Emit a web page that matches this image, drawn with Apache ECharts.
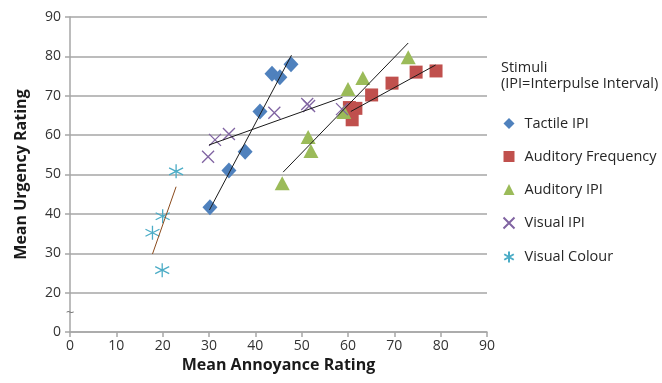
<!DOCTYPE html>
<html>
<head>
<meta charset="utf-8">
<script src="https://cdn.jsdelivr.net/npm/echarts@6/dist/echarts.min.js"></script>
<style>
	html, body { margin: 0; padding: 0; background: #fff; }
	#chart { width: 662px; height: 383px; }
</style>
</head>
<body>
<div id="chart"></div>
<script>
	// values
	var seriesNames = ['Tactile IPI', 'Auditory Frequency', 'Auditory IPI', 'Visual IPI', 'Visual Colour'];

	var tactileX = [30.2, 34.3, 37.8, 41.0, 43.6, 45.3, 47.7];
	var tactileY = [41.7, 51.0, 55.8, 66.0, 75.6, 74.7, 78.0];

	var freqX = [60.3, 61.7, 60.9, 65.1, 69.5, 74.7, 79.0];
	var freqY = [67.0, 66.8, 63.9, 70.2, 73.2, 76.0, 76.3];

	var audIpiX = [45.8, 51.4, 52.0, 59.1, 60.0, 63.2, 73.0];
	var audIpiY = [47.8, 59.5, 56.0, 65.9, 71.7, 74.5, 79.8];

	var visIpiX = [29.8, 31.3, 34.3, 44.1, 51.2, 51.6, 58.7];
	var visIpiY = [54.5, 58.8, 60.3, 65.7, 67.9, 67.4, 66.6];

	var colourX = [22.9, 20.0, 17.8, 19.9];
	var colourY = [50.8, 39.4, 35.2, 25.7];

	// trendline end points (x1, y1, x2, y2)
	var tactileTrend = [30.1, 41.0, 47.8, 80.3];
	var freqTrend = [60.6, 66.0, 78.9, 77.8];
	var audIpiTrend = [46.0, 50.6, 73.0, 83.4];
	var visIpiTrend = [30.0, 57.5, 58.8, 69.6];
	var colourTrend = [17.8, 29.8, 22.9, 46.9];

	var xTicks = [0, 10, 20, 30, 40, 50, 60, 70, 80, 90];
	var yTicks = [10, 20, 30, 40, 50, 60, 70, 80, 90]; // 10 is drawn as "0" (broken axis)

	var colors = ['#4F81BD', '#C0504D', '#9BBB59', '#8064A2', '#4BACC6'];
	var crossPath = 'path://M0,0L10,10M10,0L0,10';
	var starPath = 'path://M5,0L5,10M0.67,2.5L9.33,7.5M0.67,7.5L9.33,2.5';

	function zip(xs, ys) {
		var out = [];
		for (var i = 0; i < xs.length; i++) {
			out.push([xs[i], ys[i]]);
		}
		return out;
	}

	function scatter(i, xs, ys, symbol, size, stroked) {
		var s = {
			name: seriesNames[i],
			type: 'scatter',
			data: zip(xs, ys),
			symbol: symbol,
			symbolSize: size,
			z: 2,
			itemStyle: { color: colors[i], opacity: 1 }
		};
		if (stroked) {
			s.itemStyle = { color: 'none', borderColor: colors[i], borderWidth: 1.3, opacity: 1 };
		}
		return s;
	}

	function trend(t, color) {
		return {
			type: 'line',
			data: [[t[0], t[1]], [t[2], t[3]]],
			symbol: 'none',
			silent: true,
			z: 3,
			lineStyle: { color: color, width: 1 }
		};
	}

	var chart = echarts.init(document.getElementById('chart'));
	var font = 'Open Sans';

	var option = {
		animation: false,
		textStyle: { fontFamily: font },
		title: {
			text: 'Stimuli\n(IPI=Interpulse Interval)',
			left: 501,
			top: 60,
			padding: 0,
			textStyle: { fontSize: 14.5, fontWeight: 'normal', color: '#262626', lineHeight: 16, fontFamily: font }
		},
		legend: {
			data: seriesNames,
			orient: 'vertical',
			left: 501,
			top: 116,
			padding: 0,
			itemWidth: 11,
			itemHeight: 11,
			itemGap: 18,
			selectedMode: false,
			textStyle: { fontSize: 14.5, color: '#262626', fontFamily: font, padding: [0, 0, 0, 5] }
		},
		grid: { left: 70, right: 175, top: 17, bottom: 51, containLabel: false },
		xAxis: {
			type: 'value',
			min: xTicks[0],
			max: xTicks[xTicks.length - 1],
			interval: 10,
			name: 'Mean Annoyance Rating',
			nameLocation: 'middle',
			nameGap: 24,
			nameTextStyle: { fontSize: 16, fontWeight: 'bold', color: '#1a1a1a' },
			axisLine: { lineStyle: { color: '#a6a6a6', width: 1.5 } },
			axisTick: { show: true, length: 5, lineStyle: { color: '#a6a6a6', width: 1.5 } },
			axisLabel: { fontSize: 14, color: '#333', margin: 7 },
			splitLine: { show: false }
		},
		yAxis: {
			type: 'value',
			min: yTicks[0],
			max: yTicks[yTicks.length - 1],
			interval: 10,
			name: 'Mean Urgency Rating',
			nameLocation: 'middle',
			nameGap: 41,
			nameTextStyle: { fontSize: 16, fontWeight: 'bold', color: '#1a1a1a' },
			axisLine: { show: true, lineStyle: { color: '#a6a6a6', width: 1.5 } },
			axisTick: { show: true, length: 5, lineStyle: { color: '#a6a6a6', width: 1.5 } },
			axisLabel: {
				fontSize: 14, color: '#333', margin: 9,
				formatter: function (v) { return v === yTicks[0] ? '0' : String(v); }
			},
			splitLine: { show: true, lineStyle: { color: '#a6a6a6', width: 1.5 } }
		},
		series: [
			scatter(0, tactileX, tactileY, 'diamond', [15, 16], false),
			scatter(1, freqX, freqY, 'rect', 13, false),
			scatter(2, audIpiX, audIpiY, 'triangle', [15, 14], false),
			scatter(3, visIpiX, visIpiY, crossPath, 12, true),
			scatter(4, colourX, colourY, starPath, 14, true),
			trend(tactileTrend, '#1a1a1a'),
			trend(freqTrend, '#1a1a1a'),
			trend(audIpiTrend, '#1a1a1a'),
			trend(visIpiTrend, '#1a1a1a'),
			trend(colourTrend, '#8a4a1c')
		]
	};
	chart.setOption(option);

	// broken-axis marks between 0 and 20
	var top = chart.convertToPixel({ gridIndex: 0 }, [0, 17.4]);
	var bot = chart.convertToPixel({ gridIndex: 0 }, [0, 14.8]);
	chart.setOption({
		graphic: [
			{ type: 'rect', shape: { x: top[0] - 3, y: top[1] + 2, width: 6, height: bot[1] - top[1] - 4 }, style: { fill: '#fff' }, z: 10 },
			{ type: 'text', x: top[0], y: top[1], style: { text: '~', fontSize: 14, fill: '#7a7a7a', align: 'center', verticalAlign: 'middle' }, z: 11 },
			{ type: 'text', x: bot[0], y: bot[1], style: { text: '~', fontSize: 14, fill: '#7a7a7a', align: 'center', verticalAlign: 'middle' }, z: 11 }
		]
	});
</script>
</body>
</html>
